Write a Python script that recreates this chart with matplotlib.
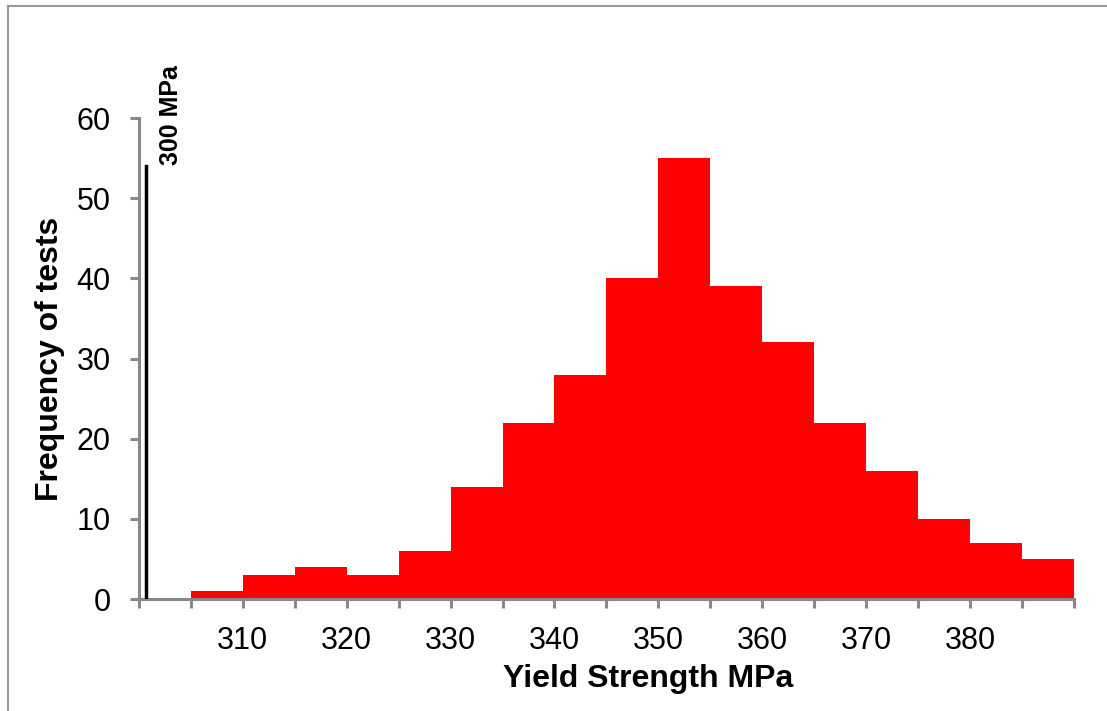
import matplotlib
matplotlib.use("Agg")
import matplotlib.pyplot as plt
from matplotlib.lines import Line2D

plt.rcParams['font.family'] = ['Liberation Sans', 'DejaVu Sans']

# histogram bins (MPa) and counts
bin_left = [305, 310, 315, 320, 325, 330, 335, 340, 345, 350, 355, 360, 365, 370, 375, 380, 385]
counts = [1, 3, 4, 3, 6, 14, 22, 28, 40, 55, 39, 32, 22, 16, 10, 7, 5]
bin_width = 5
limit_x = 300.7
limit_h = 54
x_ticks = list(range(300, 391, 5))
x_labels = [str(v) if v % 10 == 0 and 310 <= v <= 380 else '' for v in x_ticks]
y_ticks = [0, 10, 20, 30, 40, 50, 60]

fig = plt.figure(figsize=(11.07, 7.11), dpi=100)
ax = fig.add_axes([0.1256, 0.1575, 0.8444, 0.6765])

ax.bar(bin_left, counts, width=bin_width, align='edge', color='#ff0000', edgecolor='none', zorder=2)
ax.plot([limit_x, limit_x], [0, limit_h], color='black', lw=2.5, zorder=3)
ax.text(limit_x + 2.4, limit_h + 0.1, '300 MPa', rotation=90, ha='center', va='bottom',
        fontsize=18, fontweight='bold')

ax.set_xlim(300, 390)
ax.set_ylim(0, 60)
ax.set_xticks(x_ticks)
ax.set_xticklabels(x_labels)
ax.set_yticks(y_ticks)

for s in ['top', 'right']:
    ax.spines[s].set_visible(False)
for s in ['left', 'bottom']:
    ax.spines[s].set_color('#888888')
    ax.spines[s].set_linewidth(2.2)
ax.tick_params(axis='both', colors='#888888', width=2.2, length=6.5, labelsize=22,
               labelcolor='black', direction='out')
ax.tick_params(axis='x', pad=13)
ax.tick_params(axis='y', pad=14)

ax.set_xlabel('Yield Strength MPa', fontsize=23, fontweight='bold', labelpad=8)
ax.xaxis.set_label_coords(0.545, -0.135)
ax.set_ylabel('Frequency of tests', fontsize=23, fontweight='bold', labelpad=8)

# chart frame (partly cropped)
fig.add_artist(Line2D([8 / 1107, 8 / 1107], [0, 1 - 6 / 711], transform=fig.transFigure,
                      color='#999999', lw=1.5))
fig.add_artist(Line2D([8 / 1107, 1], [1 - 6 / 711, 1 - 6 / 711], transform=fig.transFigure,
                      color='#999999', lw=1.5))

fig.savefig('out.png', dpi=100)
